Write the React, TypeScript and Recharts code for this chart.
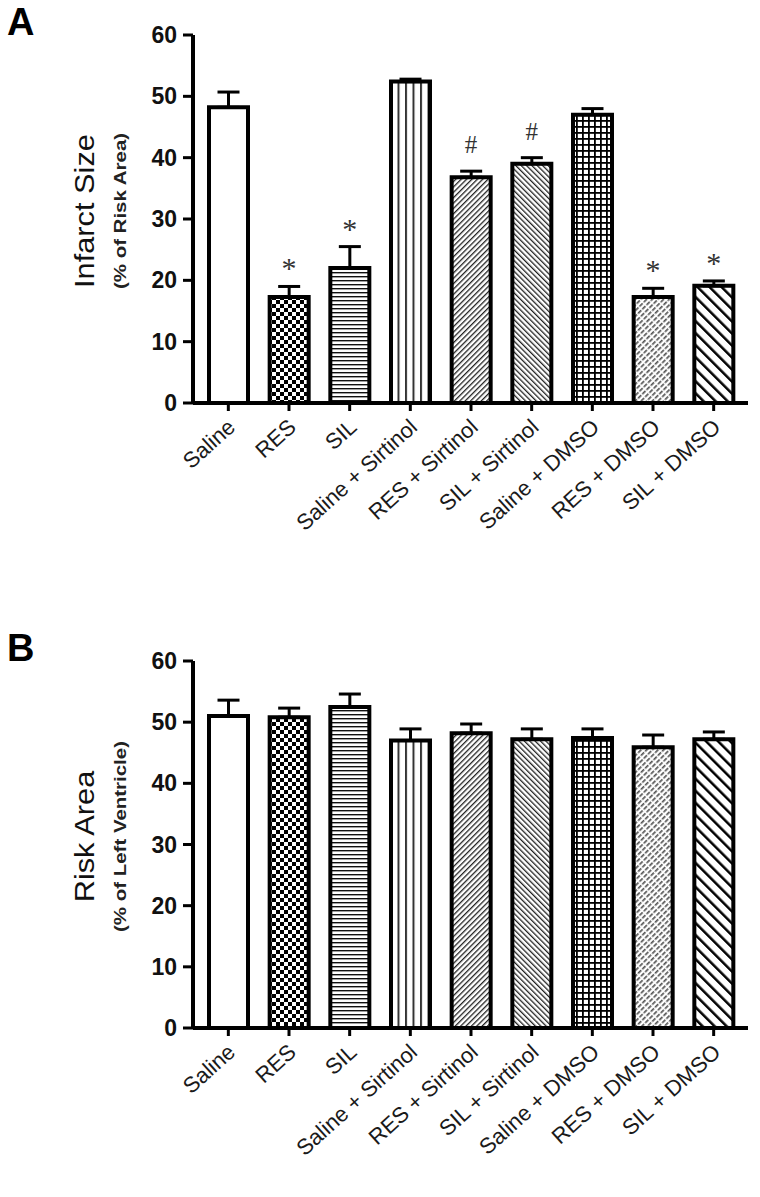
import { ComposedChart, Bar, Cell, ErrorBar, Line, LabelList, XAxis, YAxis } from "recharts";

const categories = [
  "Saline",
  "RES",
  "SIL",
  "Saline + Sirtinol",
  "RES + Sirtinol",
  "SIL + Sirtinol",
  "Saline + DMSO",
  "RES + DMSO",
  "SIL + DMSO",
];

const infarctMean = [48.2, 17.3, 22.0, 52.4, 36.8, 39.0, 47.0, 17.3, 19.1];
const infarctSem = [2.5, 1.7, 3.5, 0.4, 1.0, 1.0, 1.0, 1.4, 0.8];
const infarctMarks = ["", "*", "*", "", "#", "#", "", "*", "*"];

const riskMean = [51.0, 50.8, 52.5, 47.0, 48.2, 47.2, 47.4, 45.9, 47.2];
const riskSem = [2.6, 1.5, 2.1, 1.9, 1.5, 1.7, 1.5, 2.0, 1.2];
const riskMarks = ["", "", "", "", "", "", "", "", ""];

const yTicks = [0, 10, 20, 30, 40, 50, 60];

const fills = [
  "#ffffff",
  "url(#pChecker)",
  "url(#pHoriz)",
  "url(#pVert)",
  "url(#pFwd)",
  "url(#pBack)",
  "url(#pGrid)",
  "url(#pGrayFwd)",
  "url(#pBoldBack)",
];

const FONT = "'Liberation Sans', Arial, sans-serif";

const buildRows = (mean: number[], sem: number[], marks: string[]) =>
  categories.map((name, i) => ({
    name,
    mean: mean[i],
    err: [0, sem[i]],
    top: mean[i] + sem[i],
    mark: marks[i],
  }));

const Patterns = () => (
  <svg width={0} height={0} style={{ position: "absolute" }}>
    <defs>
      <pattern id="pChecker" width={8} height={8} patternUnits="userSpaceOnUse">
        <rect width={8} height={8} fill="#fff" />
        <rect x={0} y={0} width={4} height={4} fill="#000" />
        <rect x={4} y={4} width={4} height={4} fill="#000" />
      </pattern>
      <pattern id="pHoriz" width={4} height={4} patternUnits="userSpaceOnUse">
        <rect width={4} height={4} fill="#fff" />
        <rect x={0} y={0} width={4} height={1.4} fill="#111" />
      </pattern>
      <pattern id="pVert" width={7.5} height={4} patternUnits="userSpaceOnUse">
        <rect width={7.5} height={4} fill="#fff" />
        <rect x={0} y={0} width={2} height={4} fill="#333" />
      </pattern>
      <pattern id="pFwd" width={3.8} height={4} patternUnits="userSpaceOnUse" patternTransform="rotate(45)">
        <rect width={3.8} height={4} fill="#fff" />
        <rect x={0} y={0} width={1.3} height={4} fill="#222" />
      </pattern>
      <pattern id="pBack" width={3.8} height={4} patternUnits="userSpaceOnUse" patternTransform="rotate(-45)">
        <rect width={3.8} height={4} fill="#fff" />
        <rect x={0} y={0} width={1.3} height={4} fill="#222" />
      </pattern>
      <pattern id="pGrid" width={6} height={6} patternUnits="userSpaceOnUse">
        <rect width={6} height={6} fill="#fff" />
        <rect x={0} y={0} width={1.8} height={6} fill="#000" />
        <rect x={0} y={0} width={6} height={1.8} fill="#000" />
      </pattern>
      <pattern id="pGrayFwd" width={4} height={6} patternUnits="userSpaceOnUse" patternTransform="rotate(45)">
        <rect width={4} height={6} fill="#fff" />
        <rect x={0} y={0} width={1.7} height={4.5} fill="#555" />
      </pattern>
      <pattern id="pBoldBack" width={8.5} height={4} patternUnits="userSpaceOnUse" patternTransform="rotate(-45)">
        <rect width={8.5} height={4} fill="#fff" />
        <rect x={0} y={0} width={2.5} height={4} fill="#000" />
      </pattern>
    </defs>
  </svg>
);

const CategoryTick = (props: any) => {
  const { x, y, payload } = props;
  return (
    <g transform={`translate(${x + 3},${y + 10})`}>
      <text
        x={0}
        y={0}
        dy={8}
        textAnchor="end"
        transform="rotate(-42)"
        fontFamily={FONT}
        fontSize={22}
        fill="#1a1a1a"
      >
        {payload.value}
      </text>
    </g>
  );
};

const renderMark = (props: any) => {
  const { x, y, value } = props;
  if (!value) return null;
  const isHash = value === "#";
  return (
    <text
      x={x}
      y={isHash ? y - 18 : y - 8}
      textAnchor="middle"
      fontFamily="'Liberation Serif', 'Times New Roman', serif"
      fontSize={isHash ? 25 : 30}
      fill="#333"
    >
      {value}
    </text>
  );
};

type PanelProps = {
  letter: string;
  title: string;
  subtitle: string;
  mean: number[];
  sem: number[];
  marks: string[];
  top: number;
  height: number;
  xAxisHeight: number;
};

const Panel = ({ letter, title, subtitle, mean, sem, marks, top, height, xAxisHeight }: PanelProps) => {
  const rows = buildRows(mean, sem, marks);
  const yTitle = (p: any) => {
    const vb = p.viewBox;
    const cy = vb.y + vb.height / 2 - 8;
    return (
      <g>
        <text
          transform={`translate(85,${cy}) rotate(-90) scale(1.14,1)`}
          textAnchor="middle"
          dominantBaseline="central"
          fontFamily={FONT}
          fontSize={27}
          fill="#111"
        >
          {title}
        </text>
        <text
          transform={`translate(120,${cy}) rotate(-90) scale(1.28,1)`}
          textAnchor="middle"
          dominantBaseline="central"
          fontFamily={FONT}
          fontSize={16}
          fontWeight="bold"
          fill="#222"
        >
          {subtitle}
        </text>
      </g>
    );
  };
  return (
    <div style={{ position: "absolute", left: 0, top, width: 760, height }}>
      <div
        style={{
          position: "absolute",
          left: 7,
          top: 3,
          fontFamily: FONT,
          fontWeight: "bold",
          fontSize: 38,
          lineHeight: "38px",
          color: "#000",
        }}
      >
        {letter}
      </div>
      <ComposedChart width={760} height={height} data={rows} margin={{ top: 35, right: 12, bottom: 0, left: 0 }}>
        <XAxis
          dataKey="name"
          interval={0}
          height={xAxisHeight}
          padding={{ left: 5, right: 4 }}
          axisLine={{ stroke: "#000", strokeWidth: 4 }}
          tickLine={{ stroke: "#000", strokeWidth: 3 }}
          tickSize={8}
          tick={<CategoryTick />}
        />
        <YAxis
          width={193}
          domain={[0, 60]}
          ticks={yTicks}
          interval={0}
          axisLine={{ stroke: "#000", strokeWidth: 4 }}
          tickLine={{ stroke: "#000", strokeWidth: 3 }}
          tickSize={10}
          tickMargin={6}
          tick={{ fontFamily: FONT, fontSize: 23, fontWeight: "bold", fill: "#111" }}
          label={{ content: yTitle }}
        />
        <Bar dataKey="mean" barSize={39} isAnimationActive={false} stroke="#000" strokeWidth={4}>
          {rows.map((r, i) => (
            <Cell key={r.name} fill={fills[i]} stroke="#000" strokeWidth={4} />
          ))}
          <ErrorBar dataKey="err" width={11} stroke="#000" strokeWidth={3} direction="y" />
        </Bar>
        <Line dataKey="top" stroke="none" dot={false} activeDot={false} isAnimationActive={false}>
          <LabelList dataKey="mark" content={renderMark} />
        </Line>
      </ComposedChart>
    </div>
  );
};

export default function App() {
  return (
    <div style={{ position: "absolute", left: 0, top: 0, width: 760, height: 1197, background: "#fff" }}>
      <Patterns />
      <Panel
        letter="A"
        title="Infarct Size"
        subtitle="(% of Risk Area)"
        mean={infarctMean}
        sem={infarctSem}
        marks={infarctMarks}
        top={0}
        height={600}
        xAxisHeight={197}
      />
      <Panel
        letter="B"
        title="Risk Area"
        subtitle="(% of Left Ventricle)"
        mean={riskMean}
        sem={riskSem}
        marks={riskMarks}
        top={626}
        height={571}
        xAxisHeight={169}
      />
    </div>
  );
}
